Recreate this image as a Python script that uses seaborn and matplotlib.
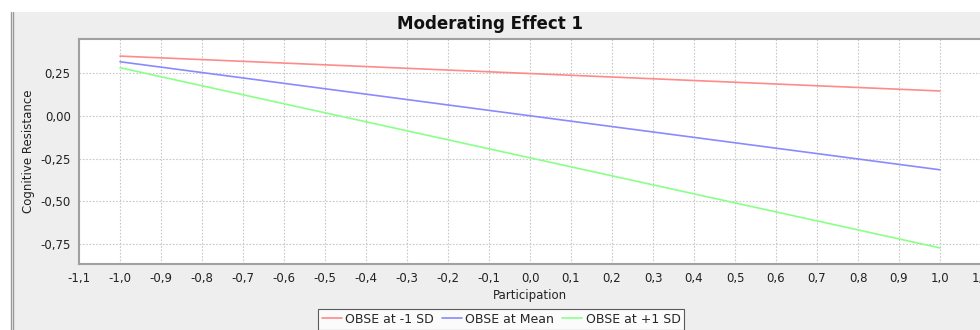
import matplotlib
matplotlib.use("Agg")
import matplotlib.pyplot as plt
import seaborn as sns
import pandas as pd
from matplotlib.patches import Rectangle
from matplotlib.lines import Line2D
from matplotlib.ticker import FixedLocator, FuncFormatter

# ---- data ----
participation = [-1.0, 1.0]
obse_minus_1sd = [0.349, 0.145]
obse_mean = [0.316, -0.316]
obse_plus_1sd = [0.281, -0.773]
series_names = ["OBSE at -1 SD", "OBSE at Mean", "OBSE at +1 SD"]
series_colors = ["#ff8a8a", "#8a8aff", "#8aff8a"]
x_ticks = [-1.1, -1.0, -0.9, -0.8, -0.7, -0.6, -0.5, -0.4, -0.3, -0.2, -0.1,
           0.0, 0.1, 0.2, 0.3, 0.4, 0.5, 0.6, 0.7, 0.8, 0.9, 1.0, 1.1]
y_ticks = [0.25, 0.0, -0.25, -0.5, -0.75]

df = pd.DataFrame({
    "Participation": participation * 3,
    "Cognitive Resistance": obse_minus_1sd + obse_mean + obse_plus_1sd,
    "series": [series_names[0]] * 2 + [series_names[1]] * 2 + [series_names[2]] * 2,
})

sns.set_style("white")
plt.rcParams["font.family"] = ["DejaVu Sans"]

W, H = 980, 330
fig = plt.figure(figsize=(W / 100, H / 100), dpi=100)
fig.patch.set_facecolor("white")

# gray panel + left double border
fig.add_artist(Rectangle((13 / W, 0), 1, (H - 12) / H, transform=fig.transFigure,
                         facecolor="#eeeeee", edgecolor="none", zorder=0))
for xp in (10.5, 12.5):
    fig.add_artist(Line2D([xp / W, xp / W], [0, (H - 12) / H], transform=fig.transFigure,
                          color="#999999", lw=1.0, zorder=1))

left, right, top, bottom = 79, 981, 39, 264
ax = fig.add_axes([left / W, (H - bottom) / H, (right - left) / W, (bottom - top) / H])
ax.set_facecolor("white")

sns.lineplot(data=df, x="Participation", y="Cognitive Resistance", hue="series",
             palette=series_colors, hue_order=series_names, ax=ax, lw=1.2,
             legend=False, zorder=3)

ax.set_xlim(-1.1, 1.1)
ax.set_ylim(-0.867, 0.449)
ax.xaxis.set_major_locator(FixedLocator(x_ticks))
ax.yaxis.set_major_locator(FixedLocator(y_ticks))
ax.xaxis.set_major_formatter(FuncFormatter(lambda v, p: f"{v:.1f}".replace(".", ",").replace("-0,0", "0,0")))
ax.yaxis.set_major_formatter(FuncFormatter(lambda v, p: f"{v:.2f}".replace(".", ",").replace("-0,00", "0,00")))
ax.grid(True, color="#c8c8c8", linestyle=(0, (1.5, 1.5)), lw=0.8, zorder=0)
ax.tick_params(axis="both", direction="out", length=4, width=0.8, color="#999999",
               labelsize=8.5, labelcolor="#222222", pad=2)
for s in ["top", "right", "left", "bottom"]:
    ax.spines[s].set_color("#a0a0a0")
    ax.spines[s].set_linewidth(1.5)

ax.set_xlabel("Participation", fontsize=8.5, color="#222222", labelpad=3)
ax.set_ylabel("Cognitive Resistance", fontsize=8.5, color="#222222", labelpad=4)

fig.text(0.5, (H - 24) / H, "Moderating Effect 1", ha="center", va="center",
         fontsize=12, fontweight="bold", color="#111111")

handles = [Line2D([], [], color=c, lw=1.2) for c in series_colors]
leg = fig.legend(handles, series_names, loc="upper center",
                 bbox_to_anchor=(501 / W, (H - 309) / H), ncol=3, fontsize=9,
                 frameon=True, fancybox=False, handlelength=1.6, handletextpad=0.3,
                 columnspacing=0.6, borderpad=0.3, borderaxespad=0)
leg.get_frame().set_edgecolor("#333333")
leg.get_frame().set_linewidth(0.8)

fig.savefig("out.png", dpi=100)
